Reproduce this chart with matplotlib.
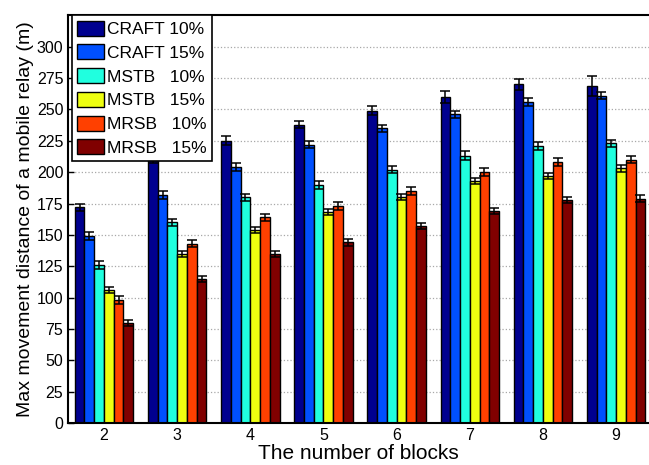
import numpy as np
import matplotlib
matplotlib.use("Agg")
import matplotlib.pyplot as plt

plt.rcParams['font.family'] = ['Liberation Sans', 'DejaVu Sans']

# Dados
blocos = [2, 3, 4, 5, 6, 7, 8, 9]
series = ["CRAFT 10%", "CRAFT 15%", "MSTB   10%", "MSTB   15%", "MRSB   10%", "MRSB   15%"]

craft10 = [172, 210, 225, 238, 249, 260, 270, 269]
craft15 = [149, 182, 204, 222, 235, 246, 256, 261]
mstb10 = [126, 160, 180, 190, 202, 213, 221, 223]
mstb15 = [106, 135, 154, 168, 180, 193, 197, 203]
mrsb10 = [98, 143, 164, 173, 185, 200, 208, 210]
mrsb15 = [80, 115, 135, 144, 157, 169, 178, 179]

err_craft10 = [3.0, 3.0, 3.5, 3.0, 3.5, 4.5, 4.5, 8.0]
err_craft15 = [3.0, 3.0, 3.0, 3.0, 3.0, 3.0, 3.0, 3.0]
err_mstb10 = [3.0, 3.0, 3.0, 3.0, 3.0, 3.5, 3.0, 3.0]
err_mstb15 = [2.5, 2.5, 2.5, 2.5, 2.5, 2.5, 2.5, 2.5]
err_mrsb10 = [3.0, 3.0, 3.0, 3.0, 3.0, 3.0, 3.0, 3.0]
err_mrsb15 = [2.5, 2.5, 2.5, 2.5, 2.5, 2.5, 2.5, 2.5]

valores = [craft10, craft15, mstb10, mstb15, mrsb10, mrsb15]
erros = [err_craft10, err_craft15, err_mstb10, err_mstb15, err_mrsb10, err_mrsb15]
cores = ['#00008F', '#0050FF', '#20FFDF', '#EFFF10', '#FF4000', '#800000']

fig = plt.figure(figsize=(6.49, 4.65), dpi=100)
ax = fig.add_axes([0.105, 0.09, 0.895, 0.877])

x = np.array(blocos, dtype=float)
n = len(series)
largura = 0.8 / n

for i in range(n):
    pos = x - 0.4 + largura * (i + 0.5)
    ax.bar(pos, valores[i], width=largura, color=cores[i], edgecolor='black',
           linewidth=1.0, label=series[i], zorder=2)
    ax.errorbar(pos, valores[i], yerr=erros[i], fmt='none', ecolor='black',
                elinewidth=1.1, capsize=3.4, capthick=1.1, zorder=3)

ax.set_xlim(1.51, 9.45)
ax.set_ylim(0, 325)
ax.set_xticks(blocos)
ax.set_yticks(np.arange(0, 301, 25))
ax.tick_params(direction='in', length=4, labelsize=11.5, width=1)
ax.yaxis.grid(True, linestyle=':', color='#a8a8a8', linewidth=0.9)
ax.set_axisbelow(True)
for s in ax.spines.values():
    s.set_linewidth(1.5)
ax.spines['right'].set_visible(False)

ax.set_xlabel("The number of blocks", fontsize=15, labelpad=1)
ax.set_ylabel("Max movement distance of a mobile relay (m)", fontsize=14, labelpad=2)

leg = ax.legend(loc='upper left', bbox_to_anchor=(0.006, 1.0), fontsize=12.5,
                handlelength=1.55, handleheight=0.95, handletextpad=0.2,
                labelspacing=0.42, borderpad=0.3, borderaxespad=0,
                fancybox=False, framealpha=1, edgecolor='black')
leg.get_frame().set_linewidth(1.2)
leg.set_zorder(5)

fig.savefig("out.png", dpi=100)
